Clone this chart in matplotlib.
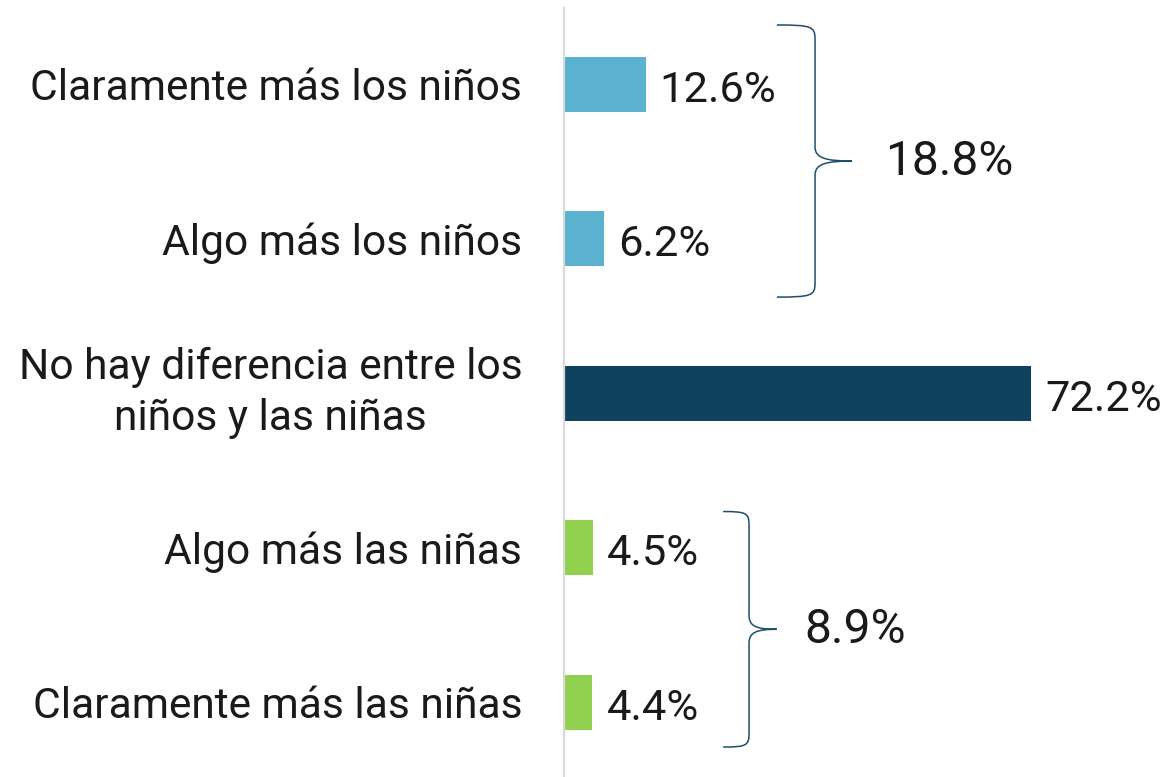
import numpy as np
import matplotlib
matplotlib.use('Agg')
import matplotlib.pyplot as plt
from matplotlib.path import Path
from matplotlib.patches import PathPatch

plt.rcParams['font.family'] = ['Roboto', 'DejaVu Sans']

# data
categories = ['Claramente más los niños', 'Algo más los niños',
              'No hay diferencia entre los\nniños y las niñas',
              'Algo más las niñas', 'Claramente más las niñas']
values = [12.6, 6.2, 72.2, 4.5, 4.4]
bar_colors = ['#5BB1D0', '#5BB1D0', '#0F425C', '#92D050', '#92D050']
group_totals = [18.8, 8.9]
group_rows = [(0, 1), (3, 4)]

text_color = '#1a1a1a'
brace_color = '#1F4E6B'

fig = plt.figure(figsize=(11.67, 7.77), dpi=100)
ax = fig.add_axes([564 / 1167, 0, 1 - 564 / 1167, 769 / 777])

y = np.arange(len(categories))
ax.barh(y, values, height=0.356, color=bar_colors)
ax.set_xlim(0, 93.2)
ax.set_ylim(4.485, -0.492)

for yi, v in zip(y, values):
    ax.text(v + 2.2, yi + 0.01, f'{v:.1f}%', va='center_baseline', ha='left',
            fontsize=31.3, color=text_color)

ax.set_yticks(y)
ax.set_yticklabels(categories, fontsize=30.6, color=text_color,
                   multialignment='center', linespacing=1.3)
# two-line label: centre the whole block on the bar
ax.get_yticklabels()[2].set_verticalalignment('center')
ax.tick_params(axis='y', length=0, pad=30)
ax.set_xticks([])
for s in ['top', 'right', 'bottom']:
    ax.spines[s].set_visible(False)
ax.spines['left'].set_color('#d9d9d9')
ax.spines['left'].set_linewidth(1.6)


def brace(ax, x0, x1, xt, y0, y1, r=0.09):
    ym = (y0 + y1) / 2
    dx = x1 - x0
    verts = [(x0, y0), (x1 - dx * 0.1, y0), (x1, y0 + r * 0.1), (x1, y0 + r),
             (x1, ym - r),
             (x1, ym - r * 0.2), (x1 + dx * 0.3, ym), (xt, ym),
             (xt, ym),
             (x1 + dx * 0.3, ym), (x1, ym + r * 0.2), (x1, ym + r),
             (x1, y1 - r),
             (x1, y1 - r * 0.1), (x1 - dx * 0.1, y1), (x0, y1)]
    codes = [Path.MOVETO, Path.CURVE4, Path.CURVE4, Path.CURVE4,
             Path.LINETO,
             Path.CURVE4, Path.CURVE4, Path.CURVE4,
             Path.MOVETO,
             Path.CURVE4, Path.CURVE4, Path.CURVE4,
             Path.LINETO,
             Path.CURVE4, Path.CURVE4, Path.CURVE4]
    ax.add_patch(PathPatch(Path(verts, codes), fill=False,
                           edgecolor=brace_color, linewidth=1.1,
                           clip_on=False))


# top group brace and total
brace(ax, 32.9, 38.8, 44.5, group_rows[0][0] - 0.382, group_rows[0][1] + 0.379)
ax.text(49.6, (group_rows[0][0] + group_rows[0][1]) / 2 - 0.03, f'{group_totals[0]:.1f}%',
        va='center_baseline', ha='left', fontsize=34.5, color=text_color)

# bottom group brace and total
brace(ax, 24.6, 28.6, 32.9, group_rows[1][0] - 0.233, group_rows[1][1] + 0.291)
ax.text(37.2, (group_rows[1][0] + group_rows[1][1]) / 2, f'{group_totals[1]:.1f}%',
        va='center_baseline', ha='left', fontsize=34.5, color=text_color)

fig.savefig('out.png', dpi=100)
